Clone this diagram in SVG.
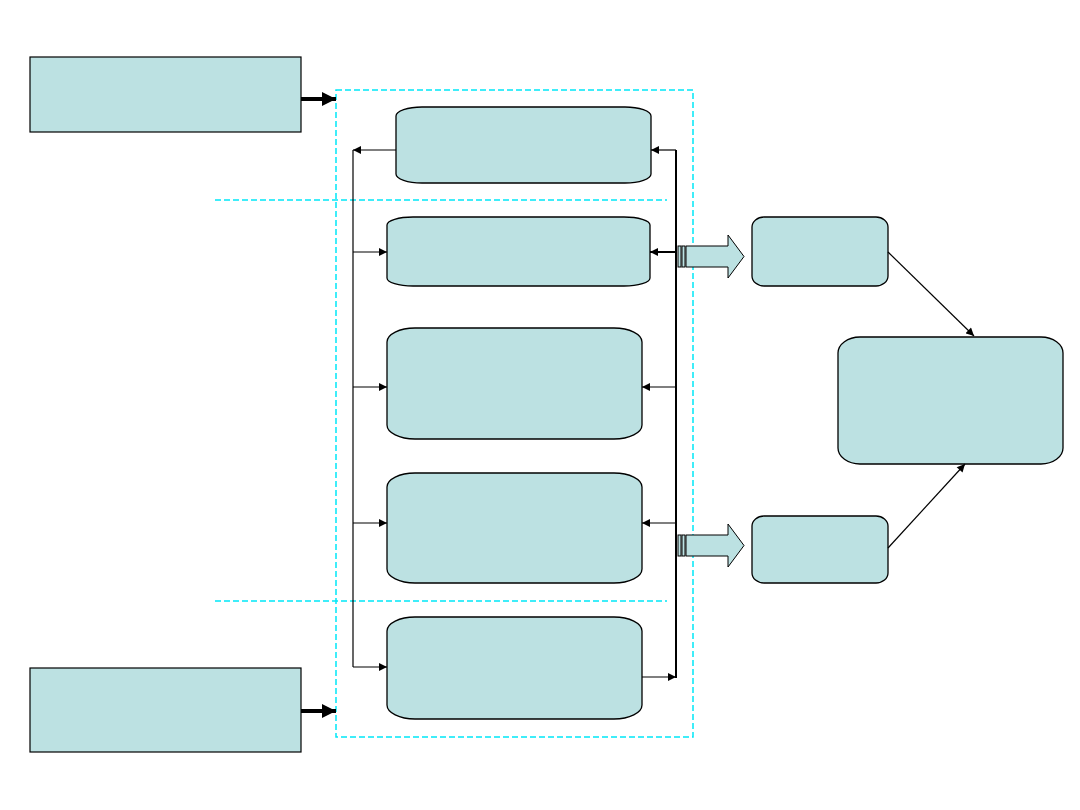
<svg xmlns="http://www.w3.org/2000/svg" width="1080" height="810" viewBox="0 0 1080 810">
<style>
.box{fill:#bce1e2;stroke:#000;stroke-width:1.3}
.sq{fill:#bce1e2;stroke:#000;stroke-width:1.2}
.dash{fill:none;stroke:#00e8f8;stroke-width:1.5;stroke-dasharray:6,3}
.ln{fill:none;stroke:#000;stroke-width:1.2}
.bus{fill:none;stroke:#000;stroke-width:2}
.thk{fill:none;stroke:#000;stroke-width:4}
.blk{fill:#bce1e2;stroke:#000;stroke-width:1}
</style>
<defs>
<marker id="ah" viewBox="0 0 10 10" refX="10" refY="5" markerWidth="9" markerHeight="8" markerUnits="userSpaceOnUse" orient="auto"><path d="M0,0 L10,5 L0,10 z" fill="#000"/></marker>
<marker id="ahb" viewBox="0 0 10 10" refX="10" refY="5" markerWidth="14" markerHeight="14" markerUnits="userSpaceOnUse" orient="auto"><path d="M0,0 L10,5 L0,10 z" fill="#000"/></marker>
</defs>
<rect width="1080" height="810" fill="#fff"/>
<g id="frame">
<rect class="dash" x="336" y="90" width="357" height="647"/>
<line class="dash" x1="215" y1="200" x2="667" y2="200"/>
<line class="dash" x1="215" y1="601" x2="667" y2="601"/>
</g>
<g id="n-top-left"><rect class="sq" x="30" y="57" width="271" height="75"/></g>
<g id="n-bottom-left"><rect class="sq" x="30" y="668" width="271" height="84"/></g>
<g id="n-box1"><rect class="box" x="396" y="107" width="255" height="76" rx="26" ry="9"/></g>
<g id="n-box2"><rect class="box" x="387" y="217" width="263" height="69" rx="26" ry="8"/></g>
<g id="n-box3"><rect class="box" x="387" y="328" width="255" height="111" rx="28" ry="14"/></g>
<g id="n-box4"><rect class="box" x="387" y="473" width="255" height="110" rx="28" ry="14"/></g>
<g id="n-box5"><rect class="box" x="387" y="617" width="255" height="102" rx="28" ry="14"/></g>
<g id="n-small1"><rect class="box" x="752" y="217" width="136" height="69" rx="12" ry="10"/></g>
<g id="n-small2"><rect class="box" x="752" y="516" width="136" height="67" rx="12" ry="10"/></g>
<g id="n-big"><rect class="box" x="838" y="337" width="225" height="127" rx="22" ry="16"/></g>
<g id="connectors">
<line class="thk" x1="301" y1="99" x2="336" y2="99" marker-end="url(#ahb)"/>
<line class="thk" x1="301" y1="711" x2="336" y2="711" marker-end="url(#ahb)"/>
<line class="ln" x1="353" y1="150" x2="353" y2="667"/>
<line class="ln" x1="396" y1="150" x2="353" y2="150" marker-end="url(#ah)"/>
<line class="ln" x1="353" y1="252" x2="387" y2="252" marker-end="url(#ah)"/>
<line class="ln" x1="353" y1="387" x2="387" y2="387" marker-end="url(#ah)"/>
<line class="ln" x1="353" y1="523" x2="387" y2="523" marker-end="url(#ah)"/>
<line class="ln" x1="353" y1="667" x2="387" y2="667" marker-end="url(#ah)"/>
<line class="bus" x1="676" y1="150" x2="676" y2="678"/>
<line class="ln" x1="676" y1="150" x2="651" y2="150" marker-end="url(#ah)"/>
<line class="bus" x1="676" y1="252" x2="650" y2="252" marker-end="url(#ah)"/>
<line class="ln" x1="676" y1="387" x2="642" y2="387" marker-end="url(#ah)"/>
<line class="ln" x1="676" y1="523" x2="642" y2="523" marker-end="url(#ah)"/>
<line class="ln" x1="642" y1="677" x2="676" y2="677" marker-end="url(#ah)"/>
<line class="ln" x1="888" y1="252" x2="974" y2="336" marker-end="url(#ah)"/>
<line class="ln" x1="888" y1="548" x2="965" y2="464" marker-end="url(#ah)"/>
<g id="blockarrow1">
<rect class="blk" x="678" y="246" width="3" height="21"/>
<rect class="blk" x="682" y="246" width="3" height="21"/>
<path class="blk" d="M686,246 L728,246 L728,235 L744,256.5 L728,278 L728,267 L686,267 Z"/>
</g>
<g id="blockarrow2">
<rect class="blk" x="678" y="535" width="3" height="21"/>
<rect class="blk" x="682" y="535" width="3" height="21"/>
<path class="blk" d="M686,535 L728,535 L728,524 L744,545.5 L728,567 L728,556 L686,556 Z"/>
</g>
</g>
</svg>
